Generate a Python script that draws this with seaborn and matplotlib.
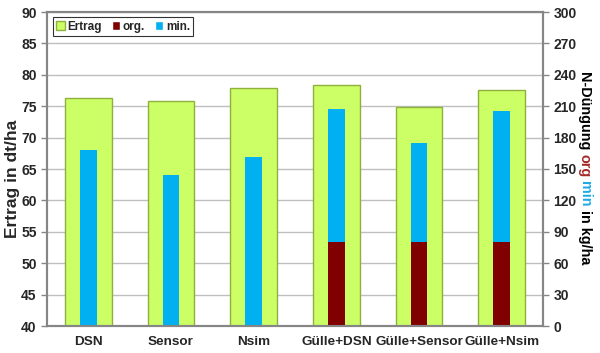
import matplotlib
matplotlib.use("Agg")
import matplotlib.pyplot as plt
import seaborn as sns
from matplotlib.patches import Patch

# data
varianten = ["DSN", "Sensor", "Nsim", "Gülle+DSN", "Gülle+Sensor", "Gülle+Nsim"]
ertrag = [76.3, 75.8, 77.9, 78.4, 74.8, 77.6]      # dt/ha (left axis)
n_org = [0, 0, 0, 80, 80, 80]                       # kg/ha (right axis)
n_min = [168, 144, 161, 127, 95, 125]               # kg/ha (right axis)

gruen = "#CCFF66"
gruen_rand = "#8FB03C"
blau = "#00B0F0"
rot = "#800000"
grau = "#868686"

sns.set_style("white")
plt.rcParams["font.family"] = ["Liberation Sans", "DejaVu Sans"]
plt.rcParams["font.weight"] = "bold"

fig = plt.figure(figsize=(6.0, 3.53), dpi=100)
ax = fig.add_axes([47 / 600, 27 / 353, 496 / 600, 314 / 353])

n_ges = [o + m for o, m in zip(n_org, n_min)]

sns.barplot(x=varianten, y=ertrag, order=varianten, color=gruen, saturation=1,
            width=0.565, edgecolor=gruen_rand, linewidth=1.0, ax=ax)
ax.set_ylim(40, 90)
ax.set_yticks(range(40, 91, 5))
ax.set_axisbelow(True)
ax.yaxis.grid(True, color="#BFBFBF", linewidth=1.0)
ax.set_xlim(-0.5, 5.5)

ax2 = ax.twinx()
sns.barplot(x=varianten, y=n_ges, order=varianten, color=blau, saturation=1,
            width=0.2, linewidth=0, ax=ax2)
sns.barplot(x=varianten, y=n_org, order=varianten, color=rot, saturation=1,
            width=0.2, linewidth=0, ax=ax2)
ax2.set_ylim(0, 300)
ax2.set_yticks(range(0, 301, 30))
ax2.set_xlim(-0.5, 5.5)

for a in (ax, ax2):
    for s in a.spines.values():
        s.set_color(grau)
        s.set_linewidth(1.5)
    a.set_xlabel("")
    a.set_ylabel("")

ax.tick_params(axis="y", direction="out", length=4, width=1, color=grau,
               labelsize=10, pad=3.5, left=True)
ax2.tick_params(axis="y", direction="out", length=4, width=1, color=grau,
                labelsize=10, pad=3.5, right=True)
ax.tick_params(axis="x", length=0, labelsize=9.7, pad=7)
ax.set_xticks(range(len(varianten)))
ax.set_xticklabels(varianten, fontweight="bold")
ax.set_xticks([i + 0.5 for i in range(-1, 6)], minor=True)
ax.tick_params(axis="x", which="minor", direction="out", length=4, width=1, color=grau)
for lab in ax.get_yticklabels() + ax2.get_yticklabels():
    lab.set_fontweight("bold")

ax.set_ylabel("Ertrag in dt/ha", fontsize=12.5, fontweight="bold")
ax.yaxis.set_label_coords(-0.054, 0.47)

handles = [Patch(facecolor=gruen, edgecolor=gruen_rand, label="Ertrag"),
           Patch(facecolor=rot, label="org."),
           Patch(facecolor=blau, label="min.")]
leg = ax2.legend(handles=handles, loc="upper left", bbox_to_anchor=(0.012, 0.984),
                 borderaxespad=0, ncol=3, fancybox=False, frameon=True,
                 handlelength=0.7, handleheight=0.7, handletextpad=0.25,
                 columnspacing=0.8, borderpad=0.3, prop={"size": 8.5, "weight": "bold"})
leg.get_frame().set_edgecolor("black")
leg.get_frame().set_linewidth(0.8)

# right axis label with coloured words, written top to bottom
teile = [("N-Düngung ", "black"), ("org", "#A52A2A"), (" ", "black"),
         ("min", "#1EAAE6"), (" in kg/ha", "black")]
fig.canvas.draw()
r = fig.canvas.get_renderer()
gross = 10.4


def laenge(s):
    t = fig.text(0, 0, s + "x", fontsize=gross, fontweight="bold")
    w = t.get_window_extent(r).width
    t.remove()
    t = fig.text(0, 0, "x", fontsize=gross, fontweight="bold")
    w -= t.get_window_extent(r).width
    t.remove()
    return w


gesamt = laenge("".join(p for p, _ in teile))
xb = 581
oben = 168 - gesamt / 2          # pixels from the top of the image
vor = ""
for s, c in teile:
    y_px = oben + (laenge(vor) if vor else 0)
    fig.text(xb / 600, (353 - y_px) / 353, s,
             fontsize=gross, fontweight="bold", color=c, rotation=270,
             rotation_mode="anchor", ha="left", va="baseline")
    vor += s

fig.savefig("out.png", dpi=100)
